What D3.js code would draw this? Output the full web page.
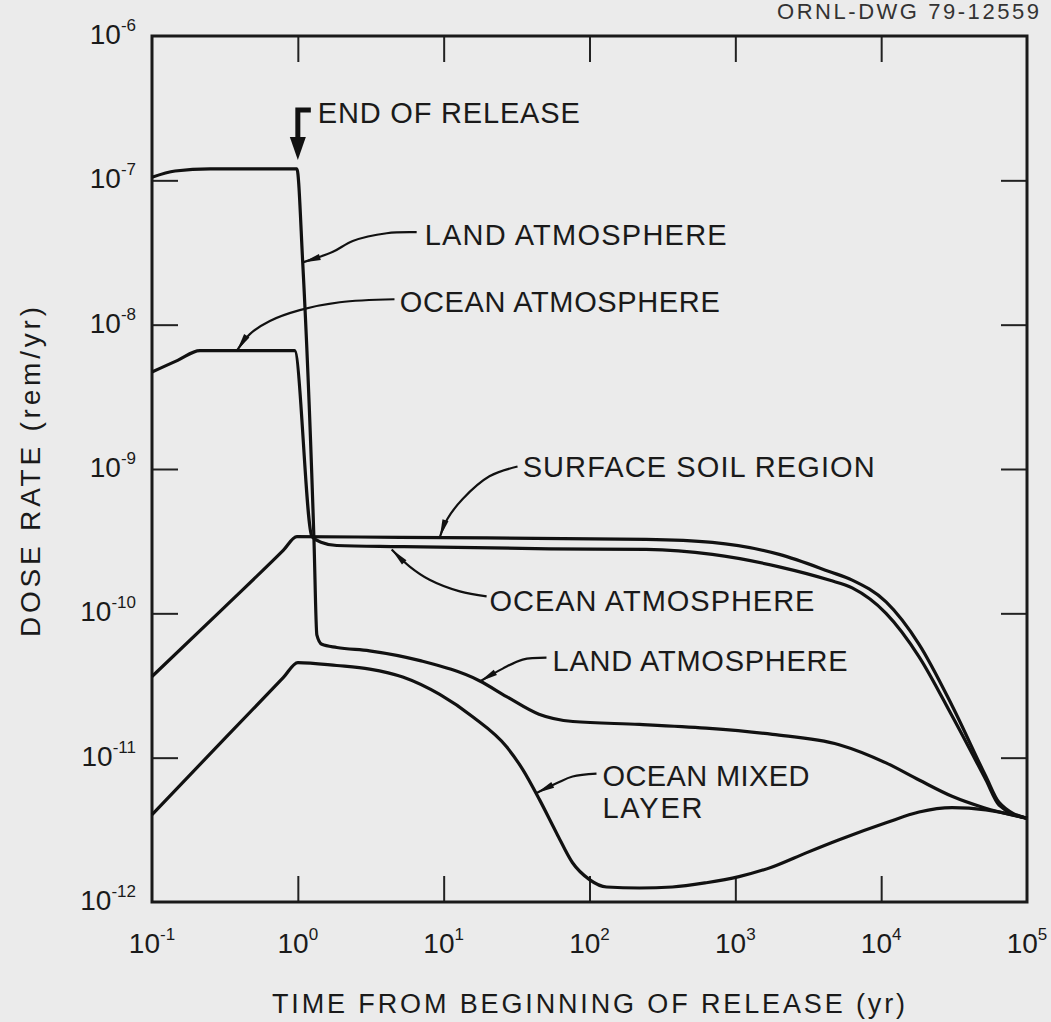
<!DOCTYPE html>
<html>
<head>
<meta charset="utf-8">
<script src="https://cdn.jsdelivr.net/npm/d3@7"></script>
<style>
  html, body { margin: 0; padding: 0; background: #ebebeb; }
  svg { display: block; font-family: "Liberation Sans", Arial, sans-serif; }
</style>
</head>
<body>
<script>
// decade exponents used for tick labels
var xTickExp = [-1, 0, 1, 2, 3, 4, 5];
var yTickExp = [-12, -11, -10, -9, -8, -7, -6];

// [time (yr), dose rate (rem/yr)]
var landAtmosphere = [
  [0.1, 1.05e-7], [0.144, 1.16e-7], [0.25, 1.2e-7], [0.985, 1.2e-7],
  [1.08, 2.7e-8], [1.29, 3.25e-10], [1.35, 7.1e-11], [1.46, 6.1e-11],
  [1.85, 5.8e-11], [3.1, 5.5e-11], [6.9, 4.7e-11], [17.7, 3.4e-11],
  [27, 2.65e-11], [45, 2.0e-11], [77, 1.78e-11], [220, 1.7e-11],
  [630, 1.6e-11], [1800, 1.45e-11], [5150, 1.23e-11], [10800, 9.2e-12],
  [18200, 7.0e-12], [30600, 5.4e-12], [50700, 4.5e-12], [1e5, 3.8e-12]
];
var oceanAtmosphere = [
  [0.1, 4.7e-9], [0.15, 5.66e-9], [0.213, 6.6e-9], [0.382, 6.6e-9], [0.95, 6.6e-9],
  [1.25, 3.4e-10], [1.46, 3.1e-10], [1.85, 2.95e-10], [5.0, 2.9e-10],
  [53, 2.8e-10], [245, 2.77e-10], [695, 2.56e-10], [2000, 2.1e-10],
  [4400, 1.7e-10], [6330, 1.5e-10], [10800, 1.0e-10], [18200, 5.0e-11],
  [30600, 1.95e-11], [52300, 7.0e-12], [64300, 4.7e-12], [1e5, 3.8e-12]
];
var surfaceSoil = [
  [0.1, 3.65e-11], [0.316, 1.11e-10], [0.794, 2.73e-10], [0.985, 3.4e-10],
  [5.0, 3.36e-10], [245, 3.25e-10], [695, 3.1e-10], [2000, 2.56e-10],
  [4400, 1.95e-10], [6330, 1.7e-10], [10800, 1.2e-10], [18200, 6.1e-11],
  [30600, 2.3e-11], [52300, 7.4e-12], [64300, 4.9e-12], [1e5, 3.8e-12]
];
var oceanMixedLayer = [
  [0.1, 4.03e-12], [0.316, 1.36e-11], [0.794, 3.58e-11], [1.0, 4.56e-11],
  [1.85, 4.35e-11], [3.11, 4.11e-11], [5.24, 3.62e-11], [9.4, 2.74e-11],
  [15.8, 1.92e-11], [27, 1.19e-11], [34.8, 8.3e-12], [45.5, 5.1e-12],
  [59.5, 3.0e-12], [76.5, 1.87e-12], [100, 1.43e-12], [131, 1.27e-12],
  [220, 1.25e-12], [370, 1.27e-12], [632, 1.36e-12], [1060, 1.5e-12],
  [1790, 1.75e-12], [3060, 2.19e-12], [5150, 2.7e-12], [10800, 3.54e-12],
  [18200, 4.2e-12], [30600, 4.5e-12], [52300, 4.35e-12], [1e5, 3.8e-12]
];

// curve labels: text, start [t, D] of the baseline, leader points ending on the curve
var labelTexts = ["LAND ATMOSPHERE", "OCEAN ATMOSPHERE", "SURFACE SOIL REGION",
                  "OCEAN ATMOSPHERE", "LAND ATMOSPHERE", "OCEAN MIXED"];
var labelAnchors = [[7.41, 3.55e-8], [5.0, 1.22e-8], [34.8, 8.75e-10],
                    [20.6, 1.04e-10], [55.8, 4.0e-11], [122.7, 6.4e-12]];
var labelWidths = [302, 320, 352, 325, 295, 207];
var labelLeaders = [
  [[6.53, 4.37e-8], [4.07, 4.3e-8], [2.38, 3.8e-8], [1.74, 3.2e-8], [1.08, 2.7e-8]],
  [[4.6, 1.5e-8], [1.94, 1.43e-8], [1.03, 1.26e-8], [0.643, 1.06e-8], [0.469, 8.6e-9], [0.382, 6.6e-9]],
  [[32.1, 1.04e-9], [20.6, 8.9e-10], [13.5, 6.2e-10], [10.6, 4.5e-10], [9.4, 3.36e-10]],
  [[19.7, 1.31e-10], [12.9, 1.42e-10], [8.0, 1.71e-10], [5.85, 2.11e-10], [4.4, 2.77e-10]],
  [[50.7, 4.93e-11], [34.8, 4.78e-11], [25.4, 4.14e-11], [17.7, 3.37e-11]],
  [[111.7, 7.75e-12], [76.6, 7.4e-12], [60.4, 6.7e-12], [43.4, 5.7e-12]]
];
var layerAnchor = [122.7, 3.84e-12];

var endOfRelease = 1.0;
var endOfReleaseText = [1.37, 2.5e-7];

var width = 1051, height = 1022;
var margin = {top: 36, right: 24, bottom: 120, left: 152};

var svg = d3.select("body").append("svg")
    .attr("width", width)
    .attr("height", height);

var defs = svg.append("defs");
defs.append("marker")
    .attr("id", "arrow")
    .attr("viewBox", "0 0 20 10")
    .attr("refX", 20).attr("refY", 5)
    .attr("markerWidth", 20).attr("markerHeight", 9)
    .attr("markerUnits", "userSpaceOnUse")
    .attr("orient", "auto")
    .append("path")
    .attr("d", "M0,1.5 L20,5 L0,8.5 Z")
    .attr("fill", "#111");

var xScale = d3.scaleLog()
    .domain([1e-1, 1e5])
    .range([margin.left, width - margin.right]);
var yScale = d3.scaleLog()
    .domain([1e-12, 1e-6])
    .range([height - margin.bottom, margin.top]);

var xTicks = xTickExp.map(function(e){ return Math.pow(10, e); });
var yTicks = yTickExp.map(function(e){ return Math.pow(10, e); });
var innerX = xTicks.slice(1, -1), innerY = yTicks.slice(1, -1);

function styleAxis(g){
    g.select(".domain").remove();
    g.selectAll(".tick line").attr("stroke", "#222").attr("stroke-width", 2);
    g.selectAll(".tick text").remove();
}

var x0 = xScale.range()[0], x1 = xScale.range()[1];
var y0 = yScale.range()[0], y1 = yScale.range()[1];

svg.append("g").attr("transform", "translate(0," + y0 + ")")
    .call(d3.axisBottom(xScale).tickValues(innerX).tickSizeInner(-26).tickSizeOuter(0))
    .call(styleAxis);
svg.append("g").attr("transform", "translate(0," + y1 + ")")
    .call(d3.axisTop(xScale).tickValues(innerX).tickSizeInner(-26).tickSizeOuter(0))
    .call(styleAxis);
svg.append("g").attr("transform", "translate(" + x0 + ",0)")
    .call(d3.axisLeft(yScale).tickValues(innerY).tickSizeInner(-26).tickSizeOuter(0))
    .call(styleAxis);
svg.append("g").attr("transform", "translate(" + x1 + ",0)")
    .call(d3.axisRight(yScale).tickValues(innerY).tickSizeInner(-26).tickSizeOuter(0))
    .call(styleAxis);

svg.append("rect")
    .attr("x", x0).attr("y", y1)
    .attr("width", x1 - x0).attr("height", y0 - y1)
    .attr("fill", "none")
    .attr("stroke", "#1a1a1a")
    .attr("stroke-width", 3);

// tick labels 10^n
var xl = svg.append("g").selectAll("text")
    .data(xTickExp)
    .enter().append("text")
    .attr("x", function(d){ return xScale(Math.pow(10, d)); })
    .attr("y", y0 + 51)
    .attr("text-anchor", "middle")
    .attr("fill", "#1a1a1a");
xl.append("tspan").attr("font-size", 28).text("10");
xl.append("tspan").attr("font-size", 17).attr("dy", -13)
    .text(function(d){ return d < 0 ? "-" + Math.abs(d) : d; });

var yl = svg.append("g").selectAll("text")
    .data(yTickExp)
    .enter().append("text")
    .attr("x", x0 - 16)
    .attr("y", function(d){ return yScale(Math.pow(10, d)) + 8; })
    .attr("text-anchor", "end")
    .attr("fill", "#1a1a1a");
yl.append("tspan").attr("font-size", 28).text("10");
yl.append("tspan").attr("font-size", 17).attr("dy", -13)
    .text(function(d){ return "-" + Math.abs(d); });

// axis titles
svg.append("text")
    .attr("x", 272).attr("y", 1013)
    .attr("font-size", 27)
    .attr("textLength", 633).attr("lengthAdjust", "spacing")
    .attr("fill", "#1a1a1a")
    .text("TIME FROM BEGINNING OF RELEASE (yr)");

svg.append("text")
    .attr("transform", "translate(40," + 472 + ") rotate(-90)")
    .attr("x", -165)
    .attr("font-size", 28)
    .attr("textLength", 330).attr("lengthAdjust", "spacing")
    .attr("fill", "#1a1a1a")
    .text("DOSE RATE (rem/yr)");

svg.append("text")
    .attr("x", 777).attr("y", 19)
    .attr("font-size", 22)
    .attr("textLength", 262).attr("lengthAdjust", "spacing")
    .attr("fill", "#333")
    .text("ORNL-DWG 79-12559");

// curves
var line = d3.line()
    .x(function(d){ return xScale(d[0]); })
    .y(function(d){ return yScale(d[1]); })
    .curve(d3.curveMonotoneX);

var series = [landAtmosphere, oceanAtmosphere, surfaceSoil, oceanMixedLayer];
svg.append("g").selectAll("path")
    .data(series)
    .enter().append("path")
    .attr("d", line)
    .attr("fill", "none")
    .attr("stroke", "#111")
    .attr("stroke-width", 3.2)
    .attr("stroke-linejoin", "round");

// leaders with arrowheads
var leader = d3.line()
    .x(function(d){ return xScale(d[0]); })
    .y(function(d){ return yScale(d[1]); })
    .curve(d3.curveCatmullRom.alpha(0.5));

svg.append("g").selectAll("path")
    .data(labelLeaders)
    .enter().append("path")
    .attr("d", leader)
    .attr("fill", "none")
    .attr("stroke", "#111")
    .attr("stroke-width", 2.2)
    .attr("marker-end", "url(#arrow)");

svg.append("g").selectAll("text")
    .data(labelTexts)
    .enter().append("text")
    .attr("x", function(d, i){ return xScale(labelAnchors[i][0]); })
    .attr("y", function(d, i){ return yScale(labelAnchors[i][1]); })
    .attr("font-size", 29)
    .attr("textLength", function(d, i){ return labelWidths[i]; })
    .attr("lengthAdjust", "spacing")
    .attr("fill", "#1a1a1a")
    .text(function(d){ return d; });

svg.append("text")
    .attr("x", xScale(layerAnchor[0]))
    .attr("y", yScale(layerAnchor[1]))
    .attr("font-size", 29)
    .attr("textLength", 100).attr("lengthAdjust", "spacing")
    .attr("fill", "#1a1a1a")
    .text("LAYER");

// end of release marker
var ex = xScale(endOfRelease);
var ey = yScale(endOfReleaseText[1]);
svg.append("path")
    .attr("d", "M" + (ex + 13) + "," + (ey - 13) + " H" + ex + " V" + (ey + 17))
    .attr("fill", "none")
    .attr("stroke", "#111")
    .attr("stroke-width", 5);
svg.append("path")
    .attr("d", "M" + (ex - 8) + "," + (ey + 14) + " H" + (ex + 8) + " L" + ex + "," + (ey + 37) + " Z")
    .attr("fill", "#111");
svg.append("text")
    .attr("x", xScale(endOfReleaseText[0]))
    .attr("y", ey)
    .attr("font-size", 29)
    .attr("textLength", 262).attr("lengthAdjust", "spacing")
    .attr("fill", "#1a1a1a")
    .text("END OF RELEASE");
</script>
</body>
</html>
